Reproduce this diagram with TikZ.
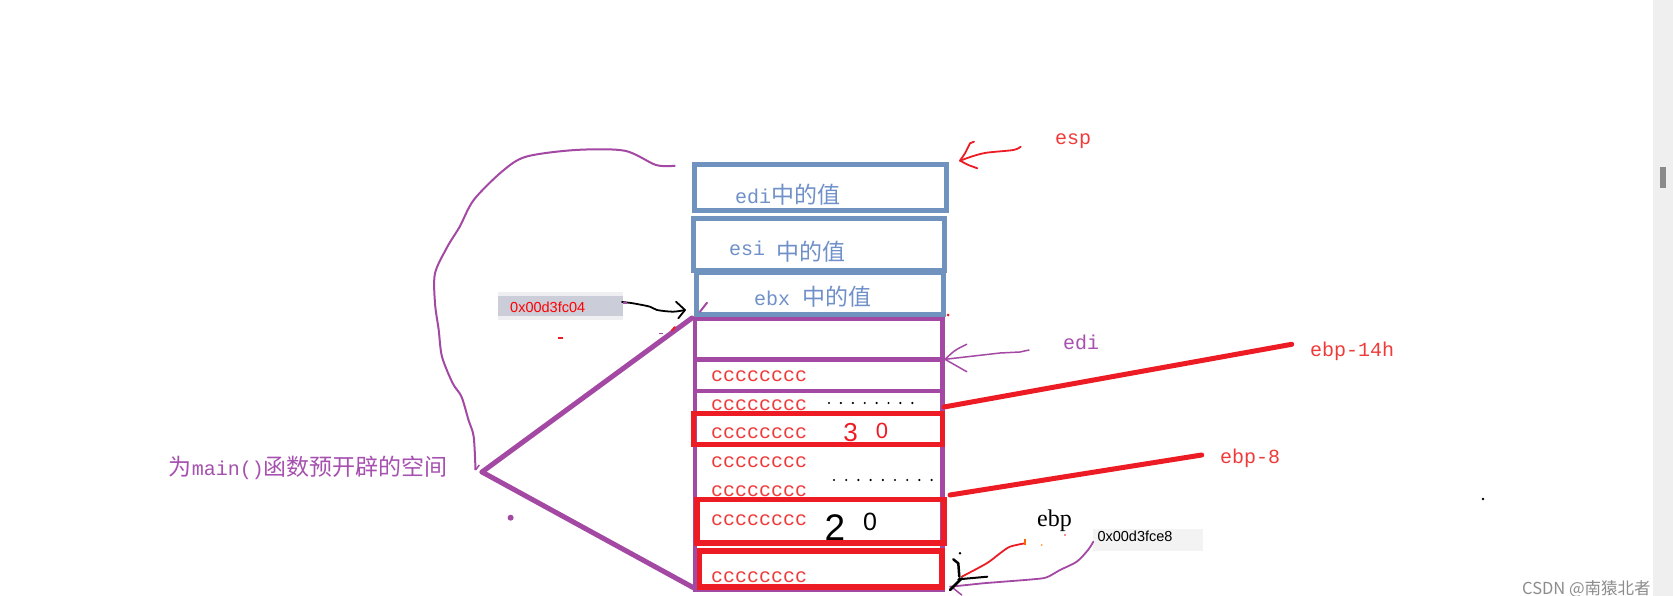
\documentclass[tikz,border=0pt]{standalone}
\usepackage{fontspec}
\setmainfont{Liberation Serif}
\newfontfamily\lat{Liberation Mono}
\newfontfamily\cjk{Noto Sans CJK SC}
\newfontfamily\ssf{Liberation Sans}
\definecolor{pblue}{HTML}{7092BE}
\definecolor{tblue}{HTML}{6F90C8}
\definecolor{ppurple}{HTML}{A349A4}
\definecolor{tpurple}{HTML}{A650B0}
\definecolor{pred}{HTML}{ED1C24}
\definecolor{tred}{HTML}{F03A3A}
\definecolor{lblgray}{HTML}{CBCDD8}
\definecolor{lbllight}{HTML}{EFEFF2}
\definecolor{lbl2}{HTML}{F3F3F3}
\definecolor{sbar}{HTML}{EFEFEF}
\definecolor{sthumb}{HTML}{8A8A8A}
\definecolor{wmark}{HTML}{8C8C8C}
\tikzset{
  mono/.style={font=\lat\fontsize{20}{24}\selectfont, inner sep=0pt, anchor=base west},
  ccc/.style={mono, text=tred},
  bluebox/.style={draw=pblue, line width=5pt},
  purplebox/.style={draw=ppurple, line width=4.5pt},
  redbox/.style={draw=pred, line width=5.5pt},
  redlink/.style={draw=pred, line width=5pt, line cap=round},
  thickpurple/.style={draw=ppurple, line width=5pt, line cap=round},
  thinpen/.style={line width=1.8pt, line cap=round, line join=round},
  addr/.style={font=\ssf\fontsize{14.5}{16}\selectfont, inner sep=0pt, anchor=base west},
}
\newcommand{\cj}[1]{{\cjk\fontsize{23}{24}\selectfont #1}}
\begin{document}
\begin{tikzpicture}[x=1pt,y=-1pt]
\useasboundingbox (0,0) rectangle (1673,596);
\fill[white] (0,0) rectangle (1673,596);
% scrollbar
\fill[sbar] (1653,0) rectangle (1673,596);
\fill[sthumb] (1660,167) rectangle (1666,188);

% purple stack
\draw[purplebox] (695,319) rectangle (942.5,590);
\draw[purplebox] (695,359.7) -- (942.5,359.7);
\draw[purplebox] (695,391) -- (942.5,391);

% blue boxes
\draw[bluebox] (694.5,164.2) rectangle (946.5,210.8);
\draw[bluebox] (693.2,218.5) rectangle (944.8,270.8);
\draw[bluebox] (696.8,272.5) rectangle (943.2,314.2);

% red boxes
\draw[redbox] (693.7,413.5) rectangle (942.3,444.5);
\draw[redbox] (697,499.5) rectangle (944,543);
\draw[redbox] (699.5,551) rectangle (942,587);

% texts in blue boxes
\node[mono, text=tblue] (t1) at (735,204) {edi\cj{中的值}};
\node[mono, text=tblue] (t2a) at (729,255) {esi};
\node[mono, text=tblue, font=\cjk\fontsize{23}{24}\selectfont] (t2b) at (776,260) {中的值};
\node[mono, text=tblue] (t3) at (754,305) {ebx \cj{中的值}};

% cccccccc rows
\node[ccc] (r1) at (711,381) {cccccccc};
\node[ccc] (r2) at (711,410) {cccccccc};
\node[ccc] (r3) at (711,438.3) {cccccccc};
\node[ccc] (r4) at (711,467.7) {cccccccc};
\node[ccc] (r5) at (711,496) {cccccccc};
\node[ccc] (r6) at (711,525.3) {cccccccc};
\node[ccc] (r7) at (711,582.7) {cccccccc};

% dots
\foreach \i in {0,...,7} \fill[black] (829+\i*11.9,403) circle (1.2);
\foreach \i in {0,...,8} \fill[black] (834+\i*12.2,480) circle (1.2);

% handwritten numbers
\node[font=\ssf\fontsize{26}{26}\selectfont, text=pred, inner sep=0pt] (n3) at (850.5,432.5) {3};
\node[font=\ssf\fontsize{22}{22}\selectfont, text=pred, inner sep=0pt] (n0a) at (882,431) {0};
\node[font=\ssf\fontsize{37}{37}\selectfont, text=black, inner sep=0pt] (n2) at (835,527.5) {2};
\node[font=\ssf\fontsize{25}{25}\selectfont, text=black, inner sep=0pt] (n0b) at (870,522) {0};

% right labels
\node[mono, text=tred] (esp) at (1055,145) {esp};
\node[mono, text=tpurple] (edi) at (1063,349) {edi};
\node[mono, text=tred] (e14) at (1310,356) {ebp-14h};
\node[mono, text=tred] (e8) at (1220,463.3) {ebp-8};
\node[font=\fontsize{24}{24}\selectfont, inner sep=0pt, anchor=base west] (ebp) at (1037,526) {ebp};

% address labels
\fill[lbllight] (497.6,292) rectangle (622.8,320);
\fill[lblgray] (497.6,296) rectangle (622.8,316);
\node[addr, text=red] (a1) at (510,312.7) {0x00d3fc04};
\fill[lbl2] (1092.7,529.3) rectangle (1202.7,550.7);
\node[addr, text=black] (a2) at (1097.3,541.7) {0x00d3fce8};

% left label
\node[inner sep=0pt, anchor=base west, text=tpurple] (mainlbl) at (168.6,475)
  {\cj{为}{\lat\fontsize{20}{24}\selectfont main()}\cj{函数预开辟的空间}};

% coordinates
\coordinate (apex) at (482,472);
\coordinate (ptop) at (692,318);
\coordinate (pbot) at (694,588);
\coordinate (l14s) at (944,407);
\coordinate (l14e) at (1291.7,344.3);
\coordinate (l8s) at (950,495);
\coordinate (l8e) at (1201.7,455);
\coordinate (curveS) at (675.4,165.7);
\coordinate (curveE) at (475.5,470);
\coordinate (espTip) at (960,160.7);
\coordinate (espTail) at (1020.7,146.7);
\coordinate (ediTip) at (945,359.3);
\coordinate (ediTail) at (1029,350);
\coordinate (blkS) at (622,302);
\coordinate (blkTip) at (685,310);
\coordinate (ebpR) at (1025,543.3);
\coordinate (ebpRs) at (961.7,576.7);
\coordinate (ebpP) at (1093.3,541.7);
\coordinate (ebpPe) at (950,586.7);

% thick purple lines
\draw[thickpurple] (apex) -- (ptop);
\draw[thickpurple] (apex) -- (pbot);

% red links
\draw[redlink] (l14s) -- (l14e);
\draw[redlink] (l8s) -- (l8e);

% big purple curve
\draw[ppurple, line width=2pt, line join=round] plot[smooth, tension=0.5] coordinates {
 (curveS) (656,165) (624.6,150.7) (575.5,150) (526,156.7) (501.8,171.7) (473.7,200)
 (459.7,226.7) (447.4,246.7) (435,273.3) (435,303.3) (438.7,330) (442,356.7)
 (452.7,383.3) (461.5,396.7) (468.5,420) (473.7,436.7) (curveE)};
\draw[ppurple, line width=1.5pt] (curveE) -- (479.3,465);

% esp arrow
\draw[pred, thinpen] plot[smooth, tension=0.5] coordinates {(espTail) (1013.3,150) (986.7,152.7) (973.3,156) (espTip)};
\draw[pred, thinpen] (974,141.7) -- (970,143.3) -- (965,153.3) -- (espTip) -- (968.3,165) -- (977.3,168.3);

% edi arrow
\draw[ppurple, line width=1.5pt, line cap=round] (ediTail) -- (1020,352) -- (1000,353) -- (ediTip);
\draw[ppurple, line width=1.5pt, line cap=round] (966.7,344.3) .. controls (955,350) .. (ediTip) .. controls (955,366) .. (966.7,371.7);

% black arrow
\draw[black, thinpen] plot[smooth, tension=0.5] coordinates {(blkS) (633,303.3) (650,306.7) (657,310) (673,311.7) (blkTip)};
\draw[black, thinpen] (676,301.7) -- (blkTip) -- (678.3,318.3);

% ebp scribbles
\draw[pred, line width=1.8pt, line cap=round] plot[smooth, tension=0.5] coordinates {(ebpRs) (986.7,563.3) (1000,553.3) (1010,546.7) (ebpR)};
\draw[orange!80!red, line width=1.5pt] (1025,539.3) -- (1025,545);
\draw[ppurple, line width=1.8pt, line cap=round] plot[smooth, tension=0.5] coordinates {(ebpP) (1088,550) (1076.7,561.7) (1060,570) (1046.7,577.3) (1033,579.3) (1003,581.7) (983,583.3) (966.7,585) (ebpPe)};
\draw[ppurple, line width=1.5pt, line cap=round] (953,588) -- (961.7,595);
\fill[black] (960,553.3) circle (1.4);
\draw[black, line width=2.5pt, line cap=round, line join=round] (953.3,559.3) -- (958.3,563.3) -- (959.3,576.7);
\draw[black, line width=2pt, line cap=round] (958.3,579.3) -- (987.3,576.7);
\draw[black, line width=2.5pt, line cap=round] (961.7,578.3) -- (950,590);

% small marks
\draw[ppurple, line width=2pt, line cap=round] (707,302.7) -- (700,311.7);
\draw[pred, line width=2pt, line cap=round] (675,327) -- (671.7,330.7);
\fill[pred] (948,315) circle (1.5);
\draw[pred, line width=1.5pt] (558,338) -- (563,338);
\draw[ppurple, line width=1pt] (659,333) -- (663,333);
\draw[ppurple, line width=1.5pt] (623,303) -- (627,303);
\fill[ppurple] (510.6,517.7) circle (3);
\fill[black] (1483,499) circle (1.3);
\fill[pred] (1065,535) circle (0.8);
\fill[orange] (1041.7,545) circle (0.8);

% watermark
\node[font=\cjk\fontsize{16.5}{18}\selectfont, text=wmark, inner sep=0pt, anchor=base west] (wm) at (1522,594) {CSDN @南猿北者};
\end{tikzpicture}
\end{document}
